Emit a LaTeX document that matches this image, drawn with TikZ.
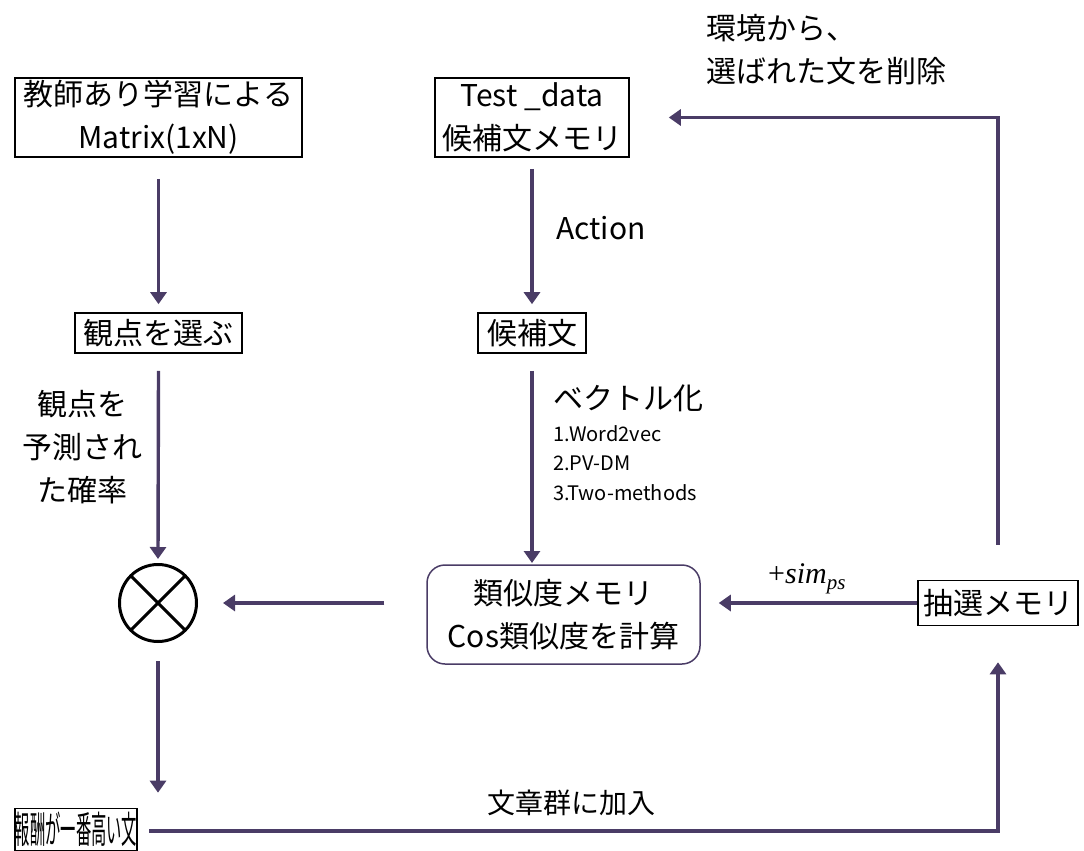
\documentclass[tikz,border=0pt]{standalone}
\usepackage{fontspec}
\setmainfont{Noto Sans CJK JP}
\newfontfamily\tms{Liberation Serif}
\usetikzlibrary{arrows.meta}
\definecolor{arrcol}{HTML}{4A3C66}
\tikzset{
  box/.style={draw=black, line width=1.6pt, inner sep=0pt, align=center, font=\fontsize{30}{43}\selectfont},
  arr/.style={draw=arrcol, line width=3.4pt, -{Triangle[length=12pt,width=16pt]}},
  ln/.style={draw=arrcol, line width=3.4pt},
  lbl/.style={inner sep=0pt, font=\fontsize{30}{43}\selectfont, align=left},
}
\begin{document}
\begin{tikzpicture}[x=1pt,y=-1pt]
\useasboundingbox (0,0) rectangle (1084,851);
% nodes
\node[box, minimum width=287pt, minimum height=79pt] (sup) at (158.5,117.5) {教師あり学習による\\Matrix(1xN)};
\node[box, minimum width=194pt, minimum height=79pt] (test) at (532,117.5) {Test \_data\\候補文メモリ};
\node[box, minimum width=167pt, minimum height=40pt] (view) at (158.5,333) {観点を選ぶ};
\node[box, minimum width=108pt, minimum height=40pt] (cand) at (532,333) {候補文};
\node[draw=black, line width=3pt, circle, minimum size=77pt, inner sep=0pt] (mul) at (158,603) {};
\draw[line width=3pt] ([shift={(-135:38.5pt)}]mul.center) -- ([shift={(45:38.5pt)}]mul.center);
\draw[line width=3pt] ([shift={(-45:38.5pt)}]mul.center) -- ([shift={(135:38.5pt)}]mul.center);
\node[box, draw=arrcol, line width=1.5pt, rounded corners=18pt, minimum width=273pt, minimum height=99pt] (sim) at (563.5,614.5) {類似度メモリ\\Cos類似度を計算};
\node[box, minimum width=160pt, minimum height=45pt] (lot) at (998,603) {抽選メモリ};
\node[box, minimum width=122pt, minimum height=42pt] (best) at (76,829.5) {\scalebox{0.45}[1.1]{\fontsize{34}{34}\selectfont 報酬が一番高い文}};
% labels
\node[lbl, anchor=west] (act) at (556,228) {Action};
\node[lbl, anchor=west] (vec) at (553,398) {ベクトル化};
\node[inner sep=0pt, anchor=north west, align=left, font=\fontsize{20}{29.5}\selectfont] (list) at (553,425) {1.Word2vec\\2.PV-DM\\3.Two-methods};
\node[lbl, align=center] (prob) at (82,447) {観点を\\予測され\\た確率};
\node[lbl, anchor=west] (env) at (706,50) {環境から、\\選ばれた文を削除};
\node[inner sep=0pt, anchor=base west, font=\tms\fontsize{30}{30}\selectfont] (simps) at (768,583) {+\textit{sim}\raisebox{-6pt}{\fontsize{21}{21}\selectfont\textit{ps}}};
\node[lbl, font=\fontsize{28}{28}\selectfont] (join) at (571,803) {文章群に加入};
% connectors
\draw[arr] ([yshift=-21pt]sup.south) -- ([yshift=8pt]view.north);
\draw[arr] ([yshift=-17pt]view.south) -- ([yshift=4pt]mul.north);
\draw[arr] ([yshift=-18pt]mul.south) -- ([yshift=15pt]mul.south |- best.north);
\draw[arr] ([yshift=-11pt]test.south) -- ([yshift=8pt]cand.north);
\draw[arr] ([yshift=-17pt]cand.south) -- (cand.south |- 0,563);
\draw[arr] ([xshift=-42pt]sim.west |- mul.east) -- ([xshift=25pt]mul.east);
\draw[arr] (lot.west) -- ([xshift=18pt]sim.east |- lot.west);
\coordinate (c1) at (lot.north |- test.east);
\draw[ln] ([yshift=35pt]lot.north) -- ([yshift=-1.7pt]c1);
\draw[arr] ([xshift=1.7pt]c1) -- ([xshift=39pt]test.east);
\coordinate (c2) at (lot.south |- 0,831);
\draw[ln] ([xshift=11pt]best.east |- c2) -- ([xshift=1.7pt]c2);
\draw[arr] ([yshift=-1.7pt]c2) -- ([yshift=-36pt]lot.south);
\end{tikzpicture}
\end{document}
